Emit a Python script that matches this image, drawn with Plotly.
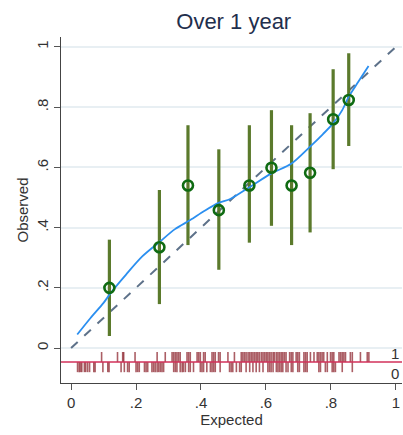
import plotly.graph_objects as go

# Grouped calibration points: mean expected risk, observed proportion, 95% CI
expected = [0.118, 0.272, 0.360, 0.455, 0.549, 0.617, 0.679, 0.736, 0.807, 0.855]
observed = [0.200, 0.335, 0.540, 0.458, 0.540, 0.599, 0.540, 0.582, 0.760, 0.824]
ci_low = [0.040, 0.146, 0.342, 0.260, 0.350, 0.406, 0.342, 0.384, 0.594, 0.671]
ci_high = [0.360, 0.525, 0.740, 0.660, 0.740, 0.790, 0.740, 0.780, 0.926, 0.979]

# Lowess smoother of outcome on expected risk
smooth_x = [0.019, 0.060, 0.100, 0.122, 0.170, 0.220, 0.273, 0.320, 0.367, 0.410, 0.454,
            0.490, 0.552, 0.617, 0.679, 0.736, 0.775, 0.807, 0.835, 0.855, 0.885, 0.916]
smooth_y = [0.045, 0.100, 0.150, 0.183, 0.245, 0.305, 0.353, 0.395, 0.425, 0.455, 0.482,
            0.495, 0.536, 0.580, 0.613, 0.669, 0.710, 0.746, 0.790, 0.835, 0.885, 0.937]

# Individual expected risks, split by outcome (rug plot)
rug_event = [0.094, 0.143, 0.159, 0.162, 0.197, 0.265, 0.290, 0.311, 0.316, 0.321, 0.326,
             0.331, 0.336, 0.357, 0.362, 0.367, 0.388, 0.393, 0.398, 0.408, 0.413, 0.434,
             0.439, 0.444, 0.454, 0.459, 0.483, 0.503, 0.524, 0.529, 0.534, 0.539, 0.545,
             0.550, 0.555, 0.560, 0.565, 0.570, 0.575, 0.580, 0.586, 0.591, 0.596, 0.601,
             0.606, 0.611, 0.616, 0.622, 0.626, 0.632, 0.637, 0.642, 0.647, 0.652, 0.657,
             0.662, 0.673, 0.678, 0.683, 0.693, 0.698, 0.703, 0.717, 0.722, 0.727, 0.737,
             0.748, 0.758, 0.763, 0.768, 0.773, 0.778, 0.789, 0.799, 0.804, 0.809, 0.825,
             0.830, 0.835, 0.840, 0.845, 0.860, 0.866, 0.891, 0.912, 0.917]
rug_nonevent = [0.020, 0.025, 0.029, 0.033, 0.041, 0.045, 0.051, 0.057, 0.070, 0.074, 0.098,
                0.113, 0.117, 0.154, 0.164, 0.174, 0.179, 0.200, 0.205, 0.210, 0.226, 0.231,
                0.236, 0.249, 0.254, 0.259, 0.265, 0.270, 0.275, 0.280, 0.285, 0.316, 0.321,
                0.326, 0.336, 0.342, 0.346, 0.352, 0.362, 0.367, 0.377, 0.398, 0.403, 0.408,
                0.418, 0.429, 0.434, 0.439, 0.444, 0.459, 0.488, 0.493, 0.498, 0.509, 0.519,
                0.524, 0.539, 0.550, 0.560, 0.570, 0.580, 0.591, 0.606, 0.611, 0.616, 0.622,
                0.632, 0.637, 0.642, 0.647, 0.652, 0.662, 0.668, 0.678, 0.683, 0.698, 0.703,
                0.717, 0.722, 0.727, 0.763, 0.768, 0.783, 0.789, 0.804, 0.809, 0.814, 0.835,
                0.866]

tick_vals = [0, 0.2, 0.4, 0.6, 0.8, 1]
tick_text = ["0", ".2", ".4", ".6", ".8", "1"]

RUG_BASE = -0.0465
RUG_UP = -0.013
RUG_DOWN = -0.080
FONT = "Liberation Sans, Arial, sans-serif"


def segments(xs, y0, y1):
    sx, sy = [], []
    for v in xs:
        sx += [v, v, None]
        sy += [y0, y1, None]
    return sx, sy


fig = go.Figure()

# Rug ticks
ux, uy = segments(rug_event, RUG_BASE, RUG_UP)
dx, dy = segments(rug_nonevent, RUG_BASE, RUG_DOWN)
fig.add_trace(go.Scatter(x=ux, y=uy, mode="lines", showlegend=False, hoverinfo="skip",
                         line=dict(color="rgba(135,25,35,0.7)", width=1.6)))
fig.add_trace(go.Scatter(x=dx, y=dy, mode="lines", showlegend=False, hoverinfo="skip",
                         line=dict(color="rgba(135,25,35,0.7)", width=1.6)))
# Rug baseline
fig.add_trace(go.Scatter(x=[-0.031, 1.02], y=[RUG_BASE, RUG_BASE], mode="lines",
                         showlegend=False, hoverinfo="skip",
                         line=dict(color="#d2315a", width=1.6)))

# Perfect calibration reference
fig.add_trace(go.Scatter(x=[0, 1], y=[0, 1], mode="lines", showlegend=False,
                         line=dict(color="#5d7189", width=2, dash="dash")))

# Confidence intervals
fig.add_trace(go.Scatter(
    x=expected, y=observed, mode="markers", showlegend=False,
    marker=dict(size=0.1, color="rgba(0,0,0,0)"),
    error_y=dict(type="data", symmetric=False,
                 array=[h - o for h, o in zip(ci_high, observed)],
                 arrayminus=[o - l for o, l in zip(observed, ci_low)],
                 color="#5b7a2c", thickness=3.2, width=0)))

# Lowess curve
fig.add_trace(go.Scatter(x=smooth_x, y=smooth_y, mode="lines", showlegend=False,
                         line=dict(color="#2b8ff0", width=1.8, shape="spline", smoothing=0.8)))

# Group markers
fig.add_trace(go.Scatter(
    x=expected, y=observed, mode="markers", showlegend=False,
    marker=dict(symbol="circle-open", size=10, color="#0f6b12", line=dict(width=2.6))))

fig.add_annotation(x=0.998, y=-0.017, text="1", showarrow=False, xanchor="center",
                   font=dict(family=FONT, size=15, color="#333333"))
fig.add_annotation(x=0.998, y=-0.086, text="0", showarrow=False, xanchor="center",
                   font=dict(family=FONT, size=15, color="#333333"))

fig.update_layout(
    width=403, height=435,
    margin=dict(l=61, r=1, t=37, b=52),
    paper_bgcolor="white", plot_bgcolor="white",
    font=dict(family=FONT, color="#333333", size=13),
    title=dict(text="Over 1 year", x=0.58, xanchor="center", y=0.95, yanchor="middle",
               font=dict(family=FONT, size=22, color="#1f2f4d")),
    xaxis=dict(range=[-0.031, 1.019], tickvals=tick_vals, ticktext=tick_text,
               showgrid=False, zeroline=False, showline=True, linecolor="#444444",
               linewidth=1.3, ticks="outside", ticklen=6, tickcolor="#555555",
               tickfont=dict(size=15, color="#333333"),
               title=dict(text="Expected", font=dict(size=15, color="#333333"), standoff=2)),
    yaxis=dict(range=[-0.116, 1.033], tickvals=tick_vals, ticktext=tick_text,
               showgrid=True, gridcolor="#e8eff3", gridwidth=1.5, zeroline=False,
               showline=True, linecolor="#444444", linewidth=1.3, ticks="outside",
               ticklen=6, tickcolor="#555555", tickangle=-90,
               tickfont=dict(size=15, color="#333333"),
               title=dict(text="Observed", font=dict(size=15, color="#333333"), standoff=1)),
)

fig.write_html("out.html")
